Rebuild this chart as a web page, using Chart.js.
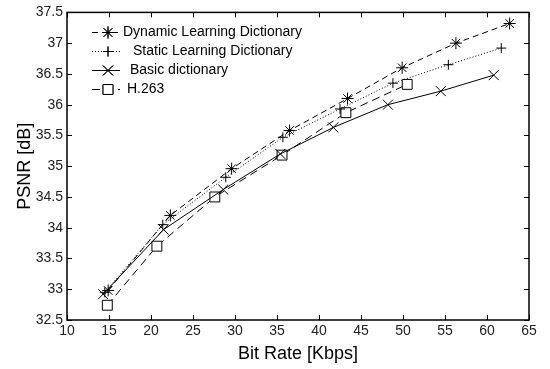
<!DOCTYPE html>
<html>
<head>
<meta charset="utf-8">
<script src="https://cdn.jsdelivr.net/npm/chart.js@4/dist/chart.umd.min.js"></script>
<style>
  html, body { margin: 0; padding: 0; background: #fff; }
  #wrap { width: 550px; height: 369px; }
</style>
</head>
<body>
<div id="wrap"><canvas id="psnr-chart"></canvas></div>
<script>
const seriesLabels = ["Dynamic Learning Dictionary", "Static Learning Dictionary", "Basic dictionary", "H.263"];

const dynamicRate = [14.9, 22.3, 29.6, 36.5, 43.4, 49.9, 56.3, 62.7];
const dynamicPsnr = [32.98, 34.2, 34.96, 35.58, 36.1, 36.6, 37.0, 37.32];

const staticRate = [14.5, 21.4, 28.9, 35.7, 42.5, 48.8, 55.4, 61.7];
const staticPsnr = [32.95, 34.05, 34.82, 35.47, 35.93, 36.35, 36.65, 36.92];

const basicRate = [14.3, 21.5, 28.6, 35.4, 41.7, 48.2, 54.5, 60.8];
const basicPsnr = [32.92, 33.97, 34.62, 35.2, 35.63, 36.0, 36.22, 36.48];

const h263Rate = [14.8, 20.7, 27.6, 35.6, 43.2, 50.5];
const h263Psnr = [32.74, 33.7, 34.5, 35.18, 35.87, 36.33];

const xTicks = [10, 15, 20, 25, 30, 35, 40, 45, 50, 55, 60, 65];
const yTicks = [32.5, 33, 33.5, 34, 34.5, 35, 35.5, 36, 36.5, 37, 37.5];

function toPoints(xs, ys) {
	return xs.map((x, i) => ({ x: x, y: ys[i] }));
}

const fontFamily = "'Liberation Sans', Arial, sans-serif";

const datasets = [
	{
		label: seriesLabels[0],
		data: toPoints(dynamicRate, dynamicPsnr),
		borderDash: [6, 4],
		pointStyle: "star",
		pointRadius: 6
	},
	{
		label: seriesLabels[1],
		data: toPoints(staticRate, staticPsnr),
		borderDash: [1, 2],
		pointStyle: "cross",
		pointRadius: 5
	},
	{
		label: seriesLabels[2],
		data: toPoints(basicRate, basicPsnr),
		borderDash: [],
		pointStyle: "crossRot",
		pointRadius: 7
	},
	{
		label: seriesLabels[3],
		data: toPoints(h263Rate, h263Psnr),
		borderDash: [8, 5],
		pointStyle: "rect",
		pointRadius: 7,
		pointBackgroundColor: "#fff"
	}
].map(d => Object.assign({
	borderColor: "#000",
	borderWidth: 1,
	pointBorderColor: "#000",
	pointBackgroundColor: "rgba(0,0,0,0)",
	pointBorderWidth: 1,
	pointHoverRadius: 0,
	tension: 0,
	fill: false
}, d));

// matlab style frame with inward ticks on all four sides
const framePlugin = {
	id: "frame",
	afterDatasetsDraw(chart) {
		const ctx = chart.ctx;
		const a = chart.chartArea;
		const xs = chart.scales.x;
		const ys = chart.scales.y;
		const len = 5;
		ctx.save();
		ctx.strokeStyle = "#000";
		ctx.lineWidth = 1;
		ctx.beginPath();
		xTicks.forEach(v => {
			const px = Math.round(xs.getPixelForValue(v)) + 0.5;
			ctx.moveTo(px, a.bottom);
			ctx.lineTo(px, a.bottom - len);
			ctx.moveTo(px, a.top);
			ctx.lineTo(px, a.top + len);
		});
		yTicks.forEach(v => {
			const py = Math.round(ys.getPixelForValue(v)) + 0.5;
			ctx.moveTo(a.left, py);
			ctx.lineTo(a.left + len, py);
			ctx.moveTo(a.right, py);
			ctx.lineTo(a.right - len, py);
		});
		ctx.stroke();
		ctx.lineWidth = 1.5;
		ctx.strokeRect(a.left, a.top, a.right - a.left, a.bottom - a.top);
		ctx.restore();
	}
};

// legend drawn inside the axes, top left
const legendPlugin = {
	id: "insideLegend",
	afterDraw(chart, args, opts) {
		const ctx = chart.ctx;
		ctx.save();
		ctx.font = "14px " + fontFamily;
		ctx.textBaseline = "middle";
		ctx.fillStyle = "#000";
		chart.data.datasets.forEach((ds, i) => {
			const y = opts.rows[i];
			ctx.strokeStyle = "#000";
			ctx.lineWidth = 1;
			ctx.setLineDash(ds.borderDash);
			ctx.beginPath();
			ctx.moveTo(opts.lineStart, y + 0.5);
			ctx.lineTo(opts.lineEnd, y + 0.5);
			ctx.stroke();
			ctx.setLineDash([]);
			Chart.helpers.drawPoint(ctx, {
				pointStyle: ds.pointStyle,
				radius: ds.pointRadius,
				borderWidth: 1
			}, opts.markerX, y + 0.5);
			if (ds.pointStyle === "rect") {
				ctx.fillStyle = "#fff";
				ctx.fill();
			}
			ctx.stroke();
			ctx.fillStyle = "#000";
			ctx.fillText(ds.label, opts.textX[i], y);
		});
		ctx.restore();
	}
};

const psnrChart = new Chart(document.getElementById("psnr-chart").getContext("2d"), {
	type: "line",
	data: { datasets: datasets },
	plugins: [framePlugin, legendPlugin],
	options: {
		responsive: true,
		maintainAspectRatio: false,
		animation: false,
		layout: { padding: { top: 7, right: 21, left: 0, bottom: 0 } },
		scales: {
			x: {
				type: "linear",
				min: 10,
				max: 65,
				afterBuildTicks: s => { s.ticks = xTicks.map(v => ({ value: v })); },
				afterFit: s => { s.height = 49; },
				grid: { display: false, drawTicks: false },
				border: { display: false },
				ticks: { color: "#222", font: { size: 14, family: fontFamily }, padding: 3, maxRotation: 0 },
				title: { display: true, text: "Bit Rate [Kbps]", color: "#000", font: { size: 18, family: fontFamily }, padding: { top: 0 } }
			},
			y: {
				min: 32.5,
				max: 37.5,
				afterBuildTicks: s => { s.ticks = yTicks.map(v => ({ value: v })); },
				afterFit: s => { s.width = 67; },
				grid: { display: false, drawTicks: false },
				border: { display: false },
				ticks: {
					color: "#222",
					font: { size: 14, family: fontFamily },
					padding: 4,
					callback: v => String(v)
				},
				title: { display: true, text: "PSNR [dB]", color: "#000", font: { size: 18, family: fontFamily }, padding: { top: 14, bottom: 0 } }
			}
		},
		plugins: {
			legend: { display: false },
			tooltip: { enabled: false },
			insideLegend: {
				rows: [32, 51, 70, 89],
				lineStart: 92,
				lineEnd: 120,
				markerX: 108,
				textX: [123, 133, 130, 127]
			}
		}
	}
});
</script>
</body>
</html>
